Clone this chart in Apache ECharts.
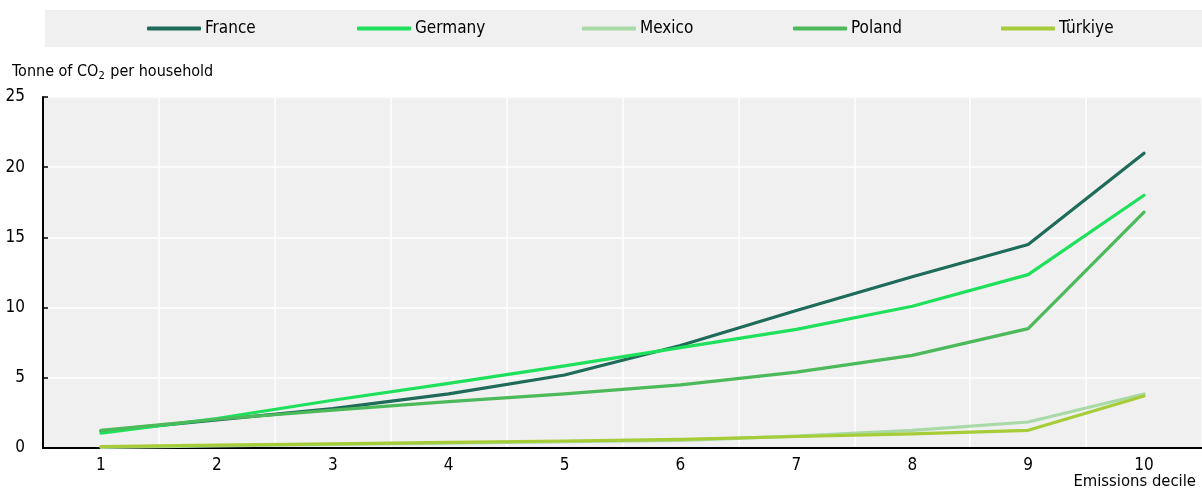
<!DOCTYPE html>
<html>
<head>
<meta charset="utf-8">
<script src="https://cdn.jsdelivr.net/npm/echarts@6/dist/echarts.min.js"></script>
<style>
html,body{margin:0;padding:0;background:#fff;}
#chart{width:1202px;height:489px;}
</style>
</head>
<body>
<div id="chart"></div>
<script>
const categories = ['1','2','3','4','5','6','7','8','9','10'];
const france  = [1.2, 2.0, 2.8, 3.85, 5.2, 7.3, 9.8, 12.2, 14.5, 21.0];
const germany = [1.05, 2.1, 3.4, 4.6, 5.85, 7.15, 8.45, 10.1, 12.35, 18.0];
const mexico  = [0.05, 0.15, 0.25, 0.35, 0.45, 0.55, 0.85, 1.25, 1.85, 3.85];
const poland  = [1.25, 2.05, 2.7, 3.3, 3.85, 4.5, 5.4, 6.6, 8.5, 16.8];
const turkiye = [0.1, 0.2, 0.3, 0.4, 0.5, 0.62, 0.82, 1.0, 1.26, 3.7];
const seriesNames = ['France','Germany','Mexico','Poland','Türkiye'];
const yTicks = [0, 5, 10, 15, 20, 25];

const FONT = '"Liberation Sans Narrow", "Arial Narrow", "DejaVu Sans Condensed", sans-serif';
const colors = ['#1d6b58', '#1fe05a', '#a8d9a6', '#4cb95a', '#a6cc37'];
const dataSets = [france, germany, mexico, poland, turkiye];
const legendLeft = [147, 357, 582, 793, 1001];

const chart = echarts.init(document.getElementById('chart'));
chart.setOption({
  animation: false,
  textStyle: { fontFamily: FONT, color: '#000' },
  graphic: [
    { type: 'rect', left: 45, top: 10, shape: { width: 1157, height: 37 }, style: { fill: '#f0f0f0' }, z: -10 },
    { type: 'text', left: 12, top: 64, style: {
        text: '{a|Tonne of CO}{s|2}{a| per household}',
        rich: { a: { fontSize: 16, fontFamily: FONT, fill: '#000' }, s: { fontSize: 11, fontFamily: FONT, fill: '#000', padding: [9, 1, 0, 0] } }
      } },
    { type: 'text', right: 6, top: 473, style: { text: 'Emissions decile', fontSize: 16.5, fontFamily: FONT, fill: '#000' } }
  ],
  legend: seriesNames.map((n, i) => ({
    left: legendLeft[i], top: 20, padding: 0, itemWidth: 54, itemHeight: 4, icon: 'roundRect',
    textStyle: { fontSize: 17, fontFamily: FONT, color: '#000', padding: [0,0,0,-1] },
    data: [n]
  })),
  grid: { left: 43, top: 97, width: 1162, height: 351, show: true, backgroundColor: '#f0f0f0', borderWidth: 0 },
  xAxis: {
    type: 'category', data: categories, boundaryGap: true,
    axisLine: { lineStyle: { color: '#000', width: 2 } },
    axisTick: { inside: true, length: 6, lineStyle: { color: '#000', width: 1.5 } },
    axisLabel: { fontSize: 17, color: '#000', margin: 9, fontFamily: FONT },
    splitLine: { show: true, lineStyle: { color: '#fff', width: 1.5 } }
  },
  yAxis: {
    type: 'value', min: yTicks[0], max: yTicks[yTicks.length-1], interval: 5,
    axisLine: { show: true, lineStyle: { color: '#000', width: 2 } },
    axisTick: { show: true, inside: true, length: 5, lineStyle: { color: '#000', width: 1.5 } },
    axisLabel: { fontSize: 17, color: '#000', margin: 18, fontFamily: FONT },
    splitLine: { show: true, lineStyle: { color: '#fff', width: 1.5 } }
  },
  series: seriesNames.map((n, i) => ({
    name: n, type: 'line', data: dataSets[i], symbol: 'none',
    lineStyle: { color: colors[i], width: 3.2, cap: 'round', join: 'round' },
    itemStyle: { color: colors[i] }
  }))
});
</script>
</body>
</html>
